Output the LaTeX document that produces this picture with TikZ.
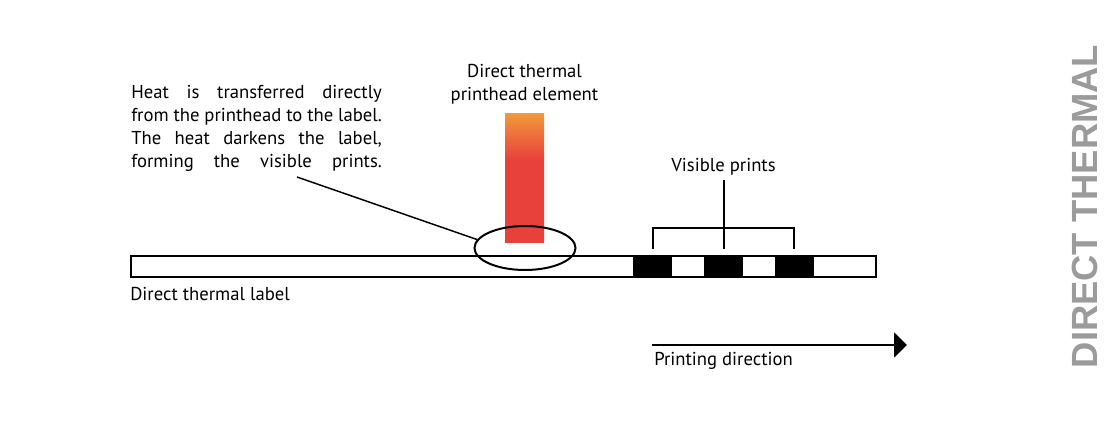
\documentclass[tikz,border=0pt]{standalone}
\usepackage{fontspec}
\setmainfont{PT Sans}
\newfontfamily\sidefont{Liberation Sans}
\usetikzlibrary{arrows.meta,positioning,shapes.geometric}
\definecolor{headorange}{HTML}{F39A3B}
\definecolor{headred}{HTML}{E8413B}
\definecolor{sidegray}{HTML}{9B9B9B}
\pgfdeclareverticalshading{headheat}{100bp}{color(0bp)=(headred); color(25bp)=(headred); color(57bp)=(headred); color(75bp)=(headorange); color(100bp)=(headorange)}
\begin{document}
\begin{tikzpicture}[x=0.75pt,y=-0.75pt, every node/.style={font=\fontsize{14}{17.25}\selectfont},
  strip/.style={draw,line width=1.5pt,fill=white,inner sep=0pt,minimum width=558.75pt,minimum height=15.75pt},
  printmark/.style={fill=black,inner sep=0pt,minimum width=29.25pt,minimum height=17.25pt},
  head/.style={shading=headheat,inner sep=0pt,minimum width=29.25pt,minimum height=96.75pt},
  hot/.style={draw,ellipse,line width=1.5pt,inner sep=0pt,minimum width=75.75pt,minimum height=33pt},
  bracket/.style={line width=1.5pt},
  leader/.style={line width=1.1pt},
  dirarrow/.style={line width=1.5pt,-{Triangle[length=9.75pt,width=18.75pt]}}]
\useasboundingbox (0,0) rectangle (1110,421);
% label with the prints
\node[strip] (lbl) at (503.5,266) {};
\foreach \x [count=\i] in {652.5,723.5,794}
  \node[printmark] (print\i) at (\x,266) {};
\node[below=7pt of lbl.south west,anchor=north west,inner sep=0pt] (lbltxt) {Direct thermal label};
% printhead
\node[head] (head) at (524.5,177.5) {};
\node[above=3pt of head,align=center] (headtxt) {Direct thermal\\printhead element};
\node[hot] (hot) at (525,248) {};
\node[anchor=north west,inner sep=0pt,text width=188pt,align=justify] (heat) at (131,85)
  {\parfillskip=0pt Heat is transferred directly\linebreak from the printhead to the label.\linebreak The heat darkens the label,\linebreak forming the visible prints.\par};
\coordinate (lead) at (297,177);
\draw[leader] (lead) -- (hot.170);
% visible prints
\node (vis) at (print2 |- 0,167) {Visible prints};
\draw[bracket] ([yshift=4pt]print1.north) -- ++(0,-21) -| ([yshift=4pt]print3.north);
\draw[bracket] (vis.south) -- ([yshift=4pt]print2.north);
% direction
\coordinate (dirA) at (652,345);
\coordinate (dirB) at (907,345);
\draw[dirarrow] (dirA) -- (dirB);
\node[below right=5pt and 1.5pt of dirA,inner sep=0pt] (dirtxt) {Printing direction};
\node[rotate=90,text=sidegray,font=\sidefont\bfseries\fontsize{27.3}{30}\selectfont] (side) at (1084.5,206.5) {DIRECT THERMAL};
\end{tikzpicture}
\end{document}
